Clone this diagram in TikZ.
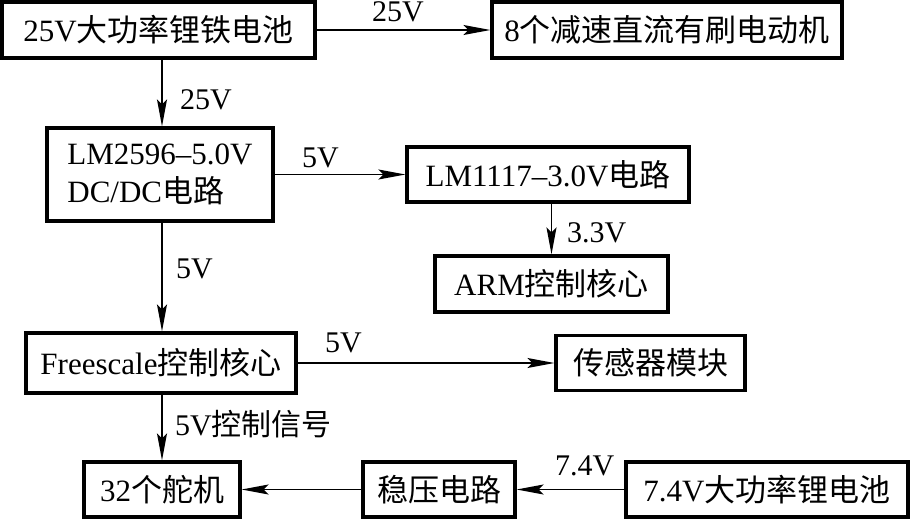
\documentclass[tikz,border=0pt]{standalone}
\usepackage{fontspec}
\setmainfont{Liberation Serif}
\newfontfamily\cjk{Noto Sans CJK SC}
\usetikzlibrary{arrows.meta}
\begin{document}
\begin{tikzpicture}[x=1pt,y=-1pt,
  box/.style={draw,line width=3.2pt,inner sep=0pt,font=\fontsize{31}{38}\selectfont},
  arr/.style={line width=1.7pt,-{Stealth[length=27pt,width=10pt,inset=5pt]}},
  lbl/.style={anchor=base west,inner sep=0pt,font=\fontsize{30}{36}\selectfont}]
\useasboundingbox (0,0) rectangle (910,519);
\node[box,minimum width=313pt,minimum height=56pt] (b1) at (158.5,30) {25V{\cjk 大功率锂铁电池}};
\node[box,minimum width=350pt,minimum height=56pt] (b2) at (667,30) {8{\cjk 个减速直流有刷电动机}};
\node[box,minimum width=226pt,minimum height=93pt,align=left] (b3) at (160,174.5) {LM2596–5.0V\\DC/DC{\cjk 电路}};
\node[box,minimum width=282pt,minimum height=55pt] (b4) at (548,174.5) {LM1117–3.0V{\cjk 电路}};
\node[box,minimum width=233pt,minimum height=56pt] (b5) at (551.5,284) {ARM{\cjk 控制核心}};
\node[box,minimum width=270pt,minimum height=60pt] (b6) at (161,363) {Freescale{\cjk 控制核心}};
\node[box,minimum width=189pt,minimum height=55pt] (b7) at (650.5,363) {{\cjk 传感器模块}};
\node[box,minimum width=156pt,minimum height=55pt] (b8) at (162,489.5) {32{\cjk 个舵机}};
\node[box,minimum width=152pt,minimum height=55pt] (b9) at (439,489.5) {{\cjk 稳压电路}};
\node[box,minimum width=282pt,minimum height=55pt] (b10) at (767,489.5) {7.4V{\cjk 大功率锂电池}};
\draw[arr] (b1.east) -- (b2.west);
\draw[arr] (b8.north |- b1.south) -- (b8.north |- b3.north);
\draw[arr] (b3.east) -- (b4.west);
\draw[arr] (b5.north |- b4.south) -- (b5.north);
\draw[arr] (b8.north |- b3.south) -- (b8.north |- b6.north);
\draw[arr] (b6.east) -- (b7.west);
\draw[arr] (b8.north |- b6.south) -- (b8.north);
\draw[arr] (b10.west) -- (b9.east);
\draw[arr] (b9.west) -- (b8.east);
\node[lbl] (l1) at (372,22) {25V};
\node[lbl] (l2) at (180,110) {25V};
\node[lbl] (l3) at (302,167) {5V};
\node[lbl] (l4) at (567,242) {3.3V};
\node[lbl] (l5) at (176,278) {5V};
\node[lbl] (l6) at (325,352) {5V};
\node[lbl] (l7) at (175,435) {5V{\cjk 控制信号}};
\node[lbl] (l8) at (555,475) {7.4V};
\end{tikzpicture}
\end{document}
